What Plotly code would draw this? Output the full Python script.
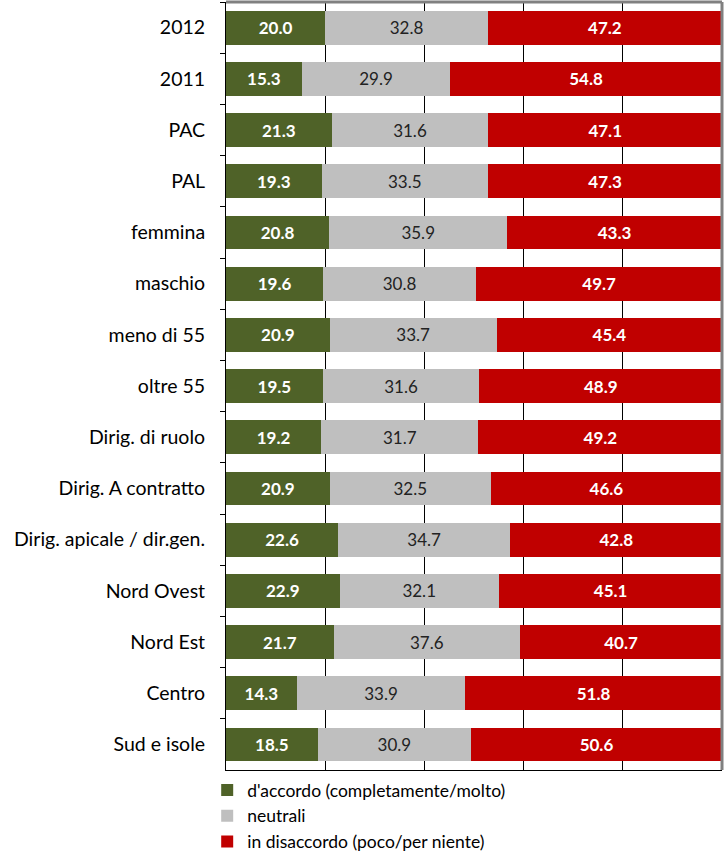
import plotly.graph_objects as go

categories = ["2012", "2011", "PAC", "PAL", "femmina", "maschio", "meno di 55", "oltre 55",
              "Dirig. di ruolo", "Dirig. A contratto", "Dirig. apicale / dir.gen.",
              "Nord Ovest", "Nord Est", "Centro", "Sud e isole"]
accordo = [20.0, 15.3, 21.3, 19.3, 20.8, 19.6, 20.9, 19.5, 19.2, 20.9, 22.6, 22.9, 21.7, 14.3, 18.5]
neutrali = [32.8, 29.9, 31.6, 33.5, 35.9, 30.8, 33.7, 31.6, 31.7, 32.5, 34.7, 32.1, 37.6, 33.9, 30.9]
disaccordo = [47.2, 54.8, 47.1, 47.3, 43.3, 49.7, 45.4, 48.9, 49.2, 46.6, 42.8, 45.1, 40.7, 51.8, 50.6]

FONT = "Lato, Carlito, sans-serif"
series = [
    ("d'accordo (completamente/molto)", accordo, "#4F6228", dict(color="white", size=17, family=FONT, weight="bold")),
    ("neutrali", neutrali, "#BFBFBF", dict(color="#222222", size=17, family=FONT)),
    ("in disaccordo (poco/per niente)", disaccordo, "#C00000", dict(color="white", size=17, family=FONT, weight="bold")),
]

fig = go.Figure()
for name, vals, col, tf in series:
    fig.add_trace(go.Bar(
        y=categories, x=vals, name=name, orientation="h",
        marker=dict(color=col, line=dict(width=0)),
        text=[f"{v:.1f}" for v in vals], textposition="inside",
        insidetextanchor="middle", textangle=0, textfont=tf,
        constraintext="none", hoverinfo="x+y+name",
    ))

fig.update_layout(
    barmode="stack", bargap=0.34,
    width=727, height=854,
    margin=dict(l=226, r=5, t=2, b=84, autoexpand=False),
    plot_bgcolor="white", paper_bgcolor="white",
    font=dict(family=FONT, size=19, color="black"),
    showlegend=True,
    legend=dict(orientation="v", xref="container", yref="container",
                x=0.285, y=0.096, xanchor="left", yanchor="top",
                traceorder="normal",
                font=dict(size=17.5), tracegroupgap=0, itemwidth=30,
                bgcolor="rgba(0,0,0,0)"),
    xaxis=dict(range=[0, 100], showticklabels=False, showgrid=True, gridcolor="black",
               gridwidth=1, dtick=20, zeroline=False, showline=True, linecolor="black",
               linewidth=1, ticks="", fixedrange=True, automargin=False),
    yaxis=dict(autorange="reversed", showline=True, linecolor="black", linewidth=1,
               ticks="outside", ticklen=5, tickcolor="black", tickson="boundaries",
               ticklabelstandoff=16, showgrid=False, tickfont=dict(size=19.5),
               automargin=False),
)
# plot-area border (top and right) in gray
fig.add_shape(type="line", xref="paper", yref="paper", x0=0, x1=1, y0=1, y1=1,
              line=dict(color="#808080", width=3))
fig.add_shape(type="line", xref="paper", yref="paper", x0=1, x1=1, y0=0, y1=1,
              line=dict(color="#808080", width=3))

fig.write_html("out.html", config={"displayModeBar": False},
               post_script="document.body.style.margin='0';")
